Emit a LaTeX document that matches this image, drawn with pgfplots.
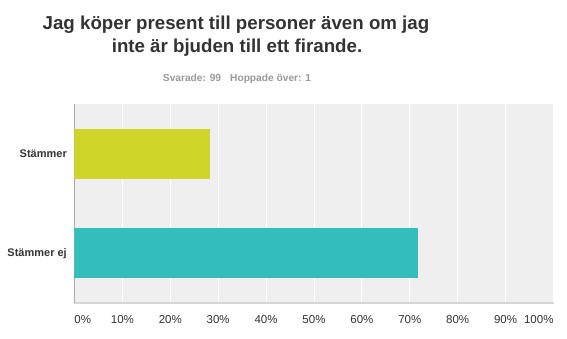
\documentclass[border=0pt]{standalone}
\usepackage{pgfplots}
\pgfplotsset{compat=1.18}
\usepackage{fontspec}
\setmainfont{Liberation Sans}
\definecolor{bgc}{HTML}{EFEFEF}
\definecolor{yel}{HTML}{D0D52A}
\definecolor{teal2}{HTML}{34BDBD}
\definecolor{txt}{HTML}{333333}
\definecolor{sub}{HTML}{999999}
\definecolor{axl}{HTML}{D6D6D6}
\begin{document}
\begin{tikzpicture}
\path (0pt,0pt) rectangle (567pt,339pt);
\node[anchor=base, font=\fontsize{18.7}{22}\selectfont\bfseries, text=txt, inner sep=0pt] at (236pt,309pt) {Jag köper present till personer även om jag};
\node[anchor=base, font=\fontsize{18.7}{22}\selectfont\bfseries, text=txt, inner sep=0pt] at (237pt,286pt) {inte är bjuden till ett firande.};
\node[anchor=base, font=\fontsize{10.2}{12}\selectfont\bfseries, text=sub, inner sep=0pt] at (237pt,257pt) {Svarade: 99\hspace{9pt}Hoppade över: 1};
\begin{axis}[
  at={(74.5pt,36pt)}, anchor=south west, scale only axis,
  width=479pt, height=199pt,
  xmin=0, xmax=100, ymin=-0.5, ymax=1.5,
  axis background/.style={fill=bgc},
  xbar, bar width=50pt,
  xtick={0,10,...,100},
  xticklabels={\makebox[0pt][l]{0\%},10\%,20\%,30\%,40\%,50\%,60\%,70\%,80\%,90\%,\makebox[0pt][r]{100\%}},
  ytick={0,1}, yticklabels={Stämmer ej,Stämmer},
  major tick length=0pt,
  xmajorgrids, grid style={white, line width=1pt},
  axis x line*=bottom, axis y line*=left,
  x axis line style={draw=axl, line width=2.2pt, -},
  y axis line style={draw=axl!80!black, line width=0.8pt, -},
  xticklabel style={font=\fontsize{11.5}{13}\selectfont, text=txt, inner sep=0pt, anchor=north, yshift=-12pt},
  yticklabel style={font=\fontsize{11}{13}\selectfont\bfseries, text=txt, inner sep=0pt, anchor=east, xshift=-7.5pt},
]
\addplot[xbar, bar shift=0pt, fill=yel, draw=none] coordinates {(28.28,1)};
\addplot[xbar, bar shift=0pt, fill=teal2, draw=none] coordinates {(71.72,0)};
\end{axis}
\end{tikzpicture}
\end{document}
